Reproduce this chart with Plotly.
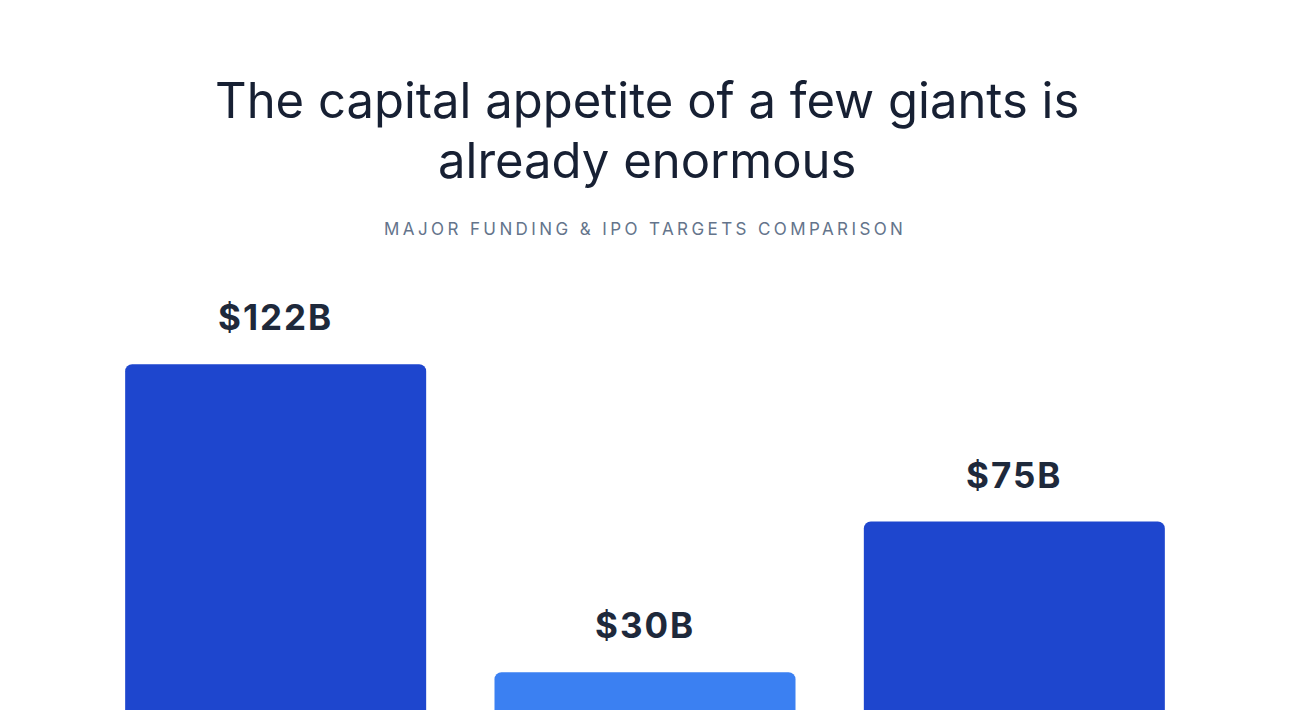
import plotly.graph_objects as go

# ---- data ----
companies = ["A", "B", "C"]
values = [122, 30, 75]
labels = ["$122B", "$30B", "$75B"]
bar_colors = ["#1E46CE", "#3B80F2", "#1E46CE"]

title_line1 = "The capital appetite of a few giants is"
title_line2 = "already enormous"
subtitle = "MAJOR FUNDING & IPO TARGETS COMPARISON"

# ---- layout geometry (page body has an 8px margin) ----
OFF = 8
W, H = 1300 - OFF, 710 - OFF
M_L, M_T, M_B = 83, 242, 0
PLOT_W = 1108
M_R = W - M_L - PLOT_W
plot_h = H - M_T - M_B
px_per_unit = 3.348
y_min = 18.7
y_max = y_min + plot_h / px_per_unit


def py(screen_y):
    """Convert a screen pixel row (from top) to paper y."""
    return (H + OFF - M_B - screen_y) / plot_h


def px(screen_x):
    return (screen_x - OFF - M_L) / PLOT_W


fig = go.Figure()
fig.add_trace(go.Bar(
    x=companies,
    y=values,
    marker=dict(color=bar_colors, cornerradius=7, line=dict(width=0)),
    hoverinfo="skip",
))

annotations = []
for c, v, lab in zip(companies, values, labels):
    annotations.append(dict(
        x=c, y=v, xref="x", yref="y",
        text=f'<span style="letter-spacing:2px"><b>{lab}</b></span>',
        showarrow=False, yanchor="middle", yshift=47,
        font=dict(family="Inter", size=35, color="#1E293B"),
    ))

annotations += [
    dict(x=px(646.5), y=py(100), xref="paper", yref="paper", text=title_line1,
         showarrow=False, yanchor="middle",
         font=dict(family="Inter", size=49, color="#172033")),
    dict(x=px(646.5), y=py(161), xref="paper", yref="paper", text=title_line2,
         showarrow=False, yanchor="middle",
         font=dict(family="Inter", size=49, color="#172033")),
    dict(x=px(645), y=py(229), xref="paper", yref="paper",
         text=f'<span style="letter-spacing:3.4px">{subtitle}</span>',
         showarrow=False, yanchor="middle",
         font=dict(family="Inter", size=17, color="#64748B")),
]

fig.update_layout(
    width=W, height=H,
    margin=dict(l=M_L, r=M_R, t=M_T, b=M_B),
    paper_bgcolor="white", plot_bgcolor="white",
    bargap=0.185,
    showlegend=False,
    xaxis=dict(visible=False),
    yaxis=dict(visible=False, range=[y_min, y_max]),
    annotations=annotations,
    shapes=[
        dict(type="rect", xref="paper", yref="paper",
             x0=px(1297.5), x1=px(1320),
             y0=-0.1, y1=py(-10),
             fillcolor="#F1F2F4", line=dict(color="#E4E6EA", width=1), layer="above"),
    ],
)

fig.write_html("out.html")
